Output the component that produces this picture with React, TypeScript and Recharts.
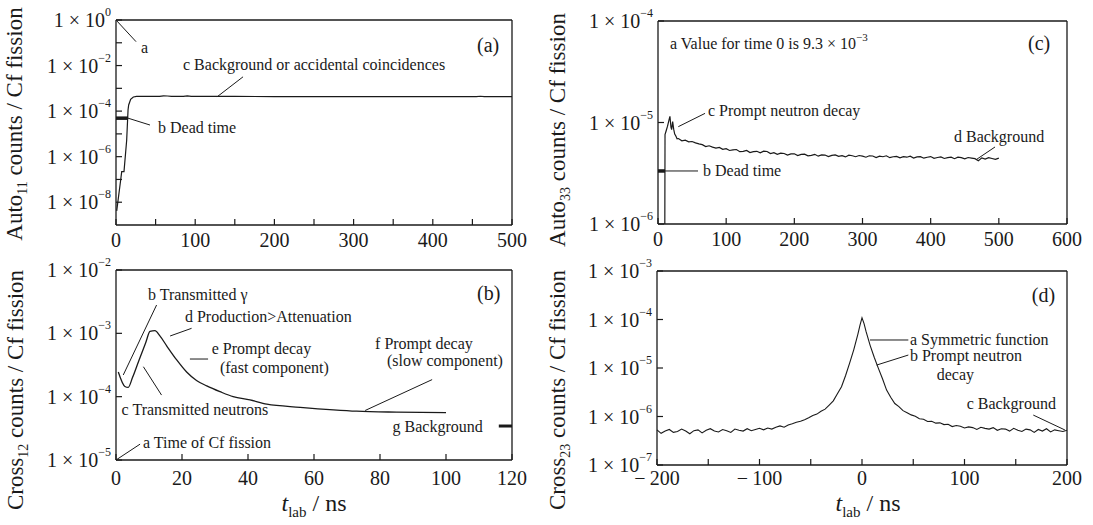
import React from "react";
import { LineChart, Line, XAxis, YAxis, ReferenceLine, ReferenceDot } from "recharts";

const FONT = "Liberation Serif";
const INK = "#1a1a1a";

type Pt = [number, number];

// ---------- (a) Auto11 ----------
const auto11: Pt[] = [
  [0.9, 4.2e-9], [5.9, 9.5e-8], [7.2, 2.2e-7], [10.1, 2.2e-7], [13.5, 5.4e-6],
  [15.2, 1.12e-4], [16, 1.86e-4], [18.5, 3.3e-4], [21.9, 4.17e-4], [26, 4.4e-4],
  [40, 4.4e-4], [55, 4.45e-4], [60, 4.7e-4], [65, 4.6e-4], [70, 4.4e-4],
  [85, 4.45e-4], [90, 4.7e-4], [95, 4.45e-4], [150, 4.4e-4], [200, 4.35e-4],
  [300, 4.35e-4], [400, 4.35e-4], [455, 4.35e-4], [460, 4.5e-4], [465, 4.3e-4], [500, 4.3e-4],
];
const auto11Dead: Pt[] = [[0, 4.9e-5], [15.2, 4.9e-5]];
const auto11XTicks = [0, 50, 100, 150, 200, 250, 300, 350, 400, 450, 500];
const auto11XLabels = [0, 100, 200, 300, 400, 500];
const auto11YTicks = [1e-8, 1e-7, 1e-6, 1e-5, 1e-4, 1e-3, 1e-2, 1e-1, 1];
const auto11YLabels = [0, -2, -4, -6, -8];

// ---------- (c) Auto33 ----------
const auto33: Pt[] = [
  [10, 1.0e-6], [10.3, 7.6e-6], [12, 8.3e-6], [14, 9.2e-6], [16, 1.05e-5], [17.5, 1.15e-5],
  [19, 9.0e-6], [20, 8.5e-6], [21.5, 1.02e-5], [23, 8.6e-6], [24.5, 7.7e-6], [26, 7.4e-6], [28, 6.9e-6],
  [30, 6.95e-6], [35, 6.6e-6], [40, 6.7e-6], [45, 6.45e-6], [50, 6.5e-6], [55, 6.3e-6], [60, 6.15e-6],
  [65, 6.05e-6], [70, 5.8e-6], [75, 5.9e-6], [80, 5.72e-6], [85, 5.6e-6], [90, 5.68e-6], [95, 5.45e-6],
  [100, 5.52e-6], [105, 5.3e-6], [110, 5.38e-6], [115, 5.42e-6], [120, 5.16e-6], [125, 5.2e-6],
  [130, 5.3e-6], [135, 5.05e-6], [140, 5.16e-6], [145, 5.2e-6], [150, 5.02e-6], [155, 5.22e-6],
  [160, 5.18e-6], [165, 4.95e-6], [170, 5.04e-6], [175, 4.85e-6], [180, 4.98e-6], [185, 4.95e-6],
  [190, 4.78e-6], [195, 4.9e-6], [200, 4.92e-6], [205, 4.72e-6], [210, 4.85e-6], [215, 4.88e-6],
  [220, 4.7e-6], [225, 4.74e-6], [230, 4.86e-6], [235, 4.66e-6], [240, 4.8e-6], [245, 4.78e-6],
  [250, 4.62e-6], [255, 4.75e-6], [260, 4.8e-6], [265, 4.64e-6], [270, 4.72e-6], [275, 4.58e-6],
  [280, 4.76e-6], [285, 4.7e-6], [290, 4.6e-6], [295, 4.73e-6], [300, 4.66e-6], [305, 4.55e-6],
  [310, 4.7e-6], [315, 4.68e-6], [320, 4.52e-6], [325, 4.66e-6], [330, 4.6e-6], [335, 4.7e-6],
  [340, 4.5e-6], [345, 4.6e-6], [350, 4.64e-6], [355, 4.48e-6], [360, 4.6e-6], [365, 4.55e-6],
  [370, 4.66e-6], [375, 4.47e-6], [380, 4.58e-6], [385, 4.6e-6], [390, 4.45e-6], [395, 4.55e-6],
  [400, 4.62e-6], [405, 4.44e-6], [410, 4.52e-6], [415, 4.58e-6], [420, 4.42e-6], [425, 4.5e-6],
  [430, 4.56e-6], [435, 4.4e-6], [440, 4.55e-6], [445, 4.5e-6], [450, 4.38e-6], [455, 4.52e-6],
  [460, 4.46e-6], [465, 4.4e-6], [470, 4.2e-6], [475, 4.48e-6], [480, 4.36e-6], [485, 4.5e-6],
  [490, 4.42e-6], [495, 4.34e-6], [500, 4.46e-6],
];
const auto33Dead: Pt[] = [[0, 3.33e-6], [10.3, 3.33e-6]];
const auto33XTicks = [0, 100, 200, 300, 400, 500, 600];
const auto33YTicks = [1e-6, 1e-5, 1e-4];
const auto33YLabels = [-4, -5, -6];

// ---------- (b) Cross12 ----------
const cross12: Pt[] = [
  [0.7, 2.45e-4], [2.7, 1.45e-4], [3.7, 1.4e-4], [5, 2.0e-4], [7, 3.8e-4], [9, 7.1e-4],
  [10.3, 1.07e-3], [11.8, 1.1e-3], [13.3, 9.1e-4], [15.4, 6.3e-4], [18.4, 3.8e-4], [21.4, 2.45e-4],
  [24.4, 1.8e-4], [27.5, 1.48e-4], [31.5, 1.2e-4], [35.5, 1.0e-4], [40.6, 8.9e-5], [45.7, 7.6e-5],
  [55.8, 6.8e-5], [65.9, 6.2e-5], [72.9, 5.9e-5], [85, 5.7e-5], [100, 5.6e-5],
];
const cross12Bg: Pt[] = [[116, 3.44e-5], [120, 3.44e-5]];
const cross12XTicks = [0, 20, 40, 60, 80, 100, 120];
const cross12YTicks = [1e-5, 1e-4, 1e-3, 1e-2];
const cross12YLabels = [-2, -3, -4, -5];

// ---------- (d) Cross23 ----------
const cross23: Pt[] = [
  [-200, 5.3e-7], [-196, 4.5e-7], [-192, 5.0e-7], [-188, 5.4e-7], [-184, 4.7e-7], [-180, 4.9e-7],
  [-176, 5.5e-7], [-172, 5.0e-7], [-168, 4.4e-7], [-164, 5.1e-7], [-160, 5.3e-7], [-156, 4.6e-7],
  [-152, 5.2e-7], [-148, 5.6e-7], [-144, 5.0e-7], [-140, 4.8e-7], [-136, 5.4e-7], [-132, 5.1e-7],
  [-128, 4.7e-7], [-124, 5.5e-7], [-120, 5.2e-7], [-116, 5.0e-7], [-112, 5.6e-7], [-108, 5.1e-7],
  [-104, 5.4e-7], [-100, 5.7e-7], [-96, 5.3e-7], [-92, 5.8e-7], [-88, 5.5e-7], [-84, 6.0e-7],
  [-80, 6.4e-7], [-76, 6.0e-7], [-72, 6.7e-7], [-68, 7.1e-7], [-64, 7.6e-7], [-60, 8.0e-7],
  [-56, 8.6e-7], [-52, 9.4e-7], [-48, 1.05e-6], [-44, 1.12e-6], [-40, 1.28e-6], [-36, 1.42e-6],
  [-32, 1.72e-6], [-28, 2.1e-6], [-24, 2.95e-6], [-20, 4.1e-6], [-16, 7.0e-6], [-12, 1.28e-5],
  [-8, 2.4e-5], [-4, 5.0e-5], [-2, 7.6e-5], [0, 1.08e-4], [2, 8.2e-5], [4, 5.6e-5], [8, 2.9e-5],
  [12, 1.65e-5], [16, 9.8e-6], [20, 6.0e-6], [24, 3.5e-6], [28, 2.5e-6], [32, 1.85e-6], [36, 1.6e-6],
  [40, 1.32e-6], [44, 1.2e-6], [48, 1.08e-6], [52, 1.01e-6], [56, 9.0e-7], [60, 8.8e-7], [64, 7.9e-7],
  [68, 8.0e-7], [72, 7.3e-7], [76, 7.4e-7], [80, 6.8e-7], [84, 6.9e-7], [88, 6.2e-7], [92, 6.5e-7],
  [96, 6.3e-7], [100, 5.8e-7], [104, 6.1e-7], [108, 5.9e-7], [112, 5.4e-7], [116, 6.0e-7], [120, 5.7e-7],
  [124, 5.5e-7], [128, 5.9e-7], [132, 5.2e-7], [136, 5.6e-7], [140, 5.5e-7], [144, 5.0e-7], [148, 5.7e-7],
  [152, 5.2e-7], [156, 4.9e-7], [160, 5.5e-7], [164, 5.3e-7], [168, 4.7e-7], [172, 5.4e-7], [176, 5.0e-7],
  [180, 5.6e-7], [184, 4.8e-7], [188, 5.3e-7], [192, 5.1e-7], [196, 4.9e-7], [200, 5.2e-7],
];
const cross23XTicks = [-200, -150, -100, -50, 0, 50, 100, 150, 200];
const cross23XLabels = [-200, -100, 0, 100, 200];
const cross23YTicks = [1e-7, 1e-6, 1e-5, 1e-4, 1e-3];
const cross23YLabels = [-3, -4, -5, -6, -7];

const rows = (pts: Pt[]) => pts.map(([t, v]) => ({ t, v }));
const sup = (e: number) => (e < 0 ? `−${-e}` : `${e}`);

function yTick(labelled: number[]) {
  return (p: any) => {
    const { x, y, payload } = p;
    const e = Math.round(Math.log10(payload.value));
    return (
      <g>
        <line x1={x} x2={x + 6} y1={y} y2={y} stroke={INK} strokeWidth={1.2} />
        {labelled.includes(e) && (
          <text x={x - 5} y={y} textAnchor="end" dominantBaseline="central" fontFamily={FONT} fontSize={20} fill={INK}>
            1 × 10<tspan dy={-8} fontSize={12}>{sup(e)}</tspan>
          </text>
        )}
      </g>
    );
  };
}

function xTick(labelled: number[] | null, gap = 22) {
  return (p: any) => {
    const { x, y, payload } = p;
    const v = payload.value as number;
    const show = labelled ? labelled.includes(v) : true;
    return (
      <g>
        <line x1={x} x2={x} y1={y} y2={y - 6} stroke={INK} strokeWidth={1.2} />
        {show && (
          <text x={x} y={y + gap} textAnchor="middle" fontFamily={FONT} fontSize={20} fill={INK}>
            {v < 0 ? `−\u2009${-v}` : v}
          </text>
        )}
      </g>
    );
  };
}

function note(key: string, x: number, y: number, text: React.ReactNode, size = 16) {
  return (
    <ReferenceDot
      key={key}
      x={x}
      y={y}
      r={0}
      ifOverflow="visible"
      shape={(p: any) => (
        <text x={p.cx} y={p.cy} dominantBaseline="central" fontFamily={FONT} fontSize={size} fill={INK}>
          {text}
        </text>
      )}
    />
  );
}

function leader(key: string, a: Pt, b: Pt) {
  return (
    <ReferenceLine
      key={key}
      segment={[{ x: a[0], y: a[1] }, { x: b[0], y: b[1] }]}
      stroke={INK}
      strokeWidth={1}
      ifOverflow="visible"
    />
  );
}

const axisLine = { stroke: INK, strokeWidth: 1.3 };

// top and right axes only close the box
function frame() {
  return [
    <XAxis key="ft" xAxisId="top" orientation="top" height={1} type="number" domain={[0, 1]} tick={false} tickLine={false} axisLine={axisLine} />,
    <YAxis key="fr" yAxisId="right" orientation="right" width={1} type="number" domain={[0, 1]} tick={false} tickLine={false} axisLine={axisLine} />,
  ];
}

function curve(key: string, pts: Pt[], width = 1.2, type: "linear" | "monotone" = "linear") {
  return (
    <Line
      key={key}
      data={rows(pts)}
      dataKey="v"
      type={type}
      stroke={INK}
      strokeWidth={width}
      dot={false}
      isAnimationActive={false}
    />
  );
}

const box = (left: number, top: number): React.CSSProperties => ({ position: "absolute", left, top });

export default function App() {
  return (
    <div style={{ position: "absolute", left: 0, top: 0, width: 1093, height: 525, background: "#fff", fontFamily: FONT }}>
      {/* (a) */}
      <div style={box(0, 0)}>
        <LineChart width={546} height={262} margin={{ top: 19, left: 115, right: 33, bottom: 36 }}>
          <XAxis dataKey="t" type="number" domain={[0, 500]} ticks={auto11XTicks} interval={0} tickSize={0} tickMargin={0}
            tickLine={false} axisLine={axisLine} height={1} tick={xTick(auto11XLabels)} />
          <YAxis type="number" scale="log" domain={[1e-9, 1]} allowDataOverflow ticks={auto11YTicks} interval={0}
            tickSize={0} tickMargin={0} tickLine={false} axisLine={axisLine} width={1} tick={yTick(auto11YLabels)} />
          {frame()}
          {curve("a1", auto11)}
          {curve("a2", auto11Dead, 3.5)}
          {leader("la", [0, 1], [25.3, 0.112])}
          {leader("lc", [127.5, 4.2e-4], [160.4, 3.2e-3])}
          {leader("lb", [15.2, 4.9e-5], [42.9, 2.45e-5])}
          {note("na", 31.6, 0.065, "a")}
          {note("nc", 84.6, 0.0106, "c  Background or accidental coincidences")}
          {note("nb", 53, 2.0e-5, "b  Dead time")}
          {note("nt", 455.8, 0.08, "(a)", 20)}
        </LineChart>
      </div>

      {/* (c) */}
      <div style={box(546, 0)}>
        <LineChart width={547} height={262} margin={{ top: 20, left: 111, right: 25, bottom: 37 }}>
          <XAxis dataKey="t" type="number" domain={[0, 600]} ticks={auto33XTicks} interval={0} tickSize={0} tickMargin={0}
            tickLine={false} axisLine={axisLine} height={1} tick={xTick(null)} />
          <YAxis type="number" scale="log" domain={[1e-6, 1e-4]} allowDataOverflow ticks={auto33YTicks} interval={0}
            tickSize={0} tickMargin={0} tickLine={false} axisLine={axisLine} width={1} tick={yTick(auto33YLabels)} />
          {frame()}
          {curve("c1", auto33)}
          {curve("c2", auto33Dead, 3.5)}
          {leader("lc", [29.8, 9.1e-6], [69, 1.23e-5])}
          {leader("lb", [10.3, 3.33e-6], [58.7, 3.33e-6])}
          {leader("ld", [468, 4.36e-6], [494.4, 5.74e-6])}
          {note("na", 17.6, 6.07e-5, <>a Value for time 0 is 9.3 × 10<tspan dy={-6} fontSize={11}>−3</tspan></>, 16)}
          {note("nt", 542.8, 6.07e-5, "(c)", 20)}
          {note("nc", 73.3, 1.3e-5, "c Prompt neutron decay")}
          {note("nb", 66, 3.33e-6, "b Dead time")}
          {note("nd", 434.2, 7.2e-6, "d Background")}
        </LineChart>
      </div>

      {/* (b) */}
      <div style={box(0, 240)}>
        <LineChart width={546} height={285} margin={{ top: 29, left: 115, right: 33, bottom: 64 }}>
          <XAxis dataKey="t" type="number" domain={[0, 120]} ticks={cross12XTicks} interval={0} tickSize={0} tickMargin={0}
            tickLine={false} axisLine={axisLine} height={1} tick={xTick(null, 25)} />
          <YAxis type="number" scale="log" domain={[1e-5, 1e-2]} allowDataOverflow ticks={cross12YTicks} interval={0}
            tickSize={0} tickMargin={0} tickLine={false} axisLine={axisLine} width={1} tick={yTick(cross12YLabels)} />
          {frame()}
          {curve("b1", cross12, 1.3, "monotone")}
          {curve("b2", cross12Bg, 3)}
          {leader("lb", [2.2, 2.2e-4], [12.3, 2.8e-3])}
          {leader("ld", [16.4, 9.08e-4], [22.9, 1.2e-3])}
          {leader("le", [22.4, 3.93e-4], [27.9, 3.93e-4])}
          {leader("lc", [8.3, 2.97e-4], [13.8, 1.06e-4])}
          {leader("la", [0, 1e-5], [7.3, 1.78e-5])}
          {leader("lf", [75.5, 6.05e-5], [95.8, 1.86e-4])}
          {note("nb", 9.7, 4.03e-3, "b Transmitted γ")}
          {note("nd", 20.9, 1.83e-3, "d Production>Attenuation")}
          {note("ne", 29, 5.66e-4, "e Prompt decay")}
          {note("ne2", 31.5, 2.84e-4, "(fast component)")}
          {note("nc", 1.7, 6.38e-5, "c Transmitted neutrons")}
          {note("na", 8.2, 1.87e-5, "a Time of Cf fission")}
          {note("nf", 78.5, 7.03e-4, "f  Prompt decay")}
          {note("nf2", 82.1, 3.66e-4, "(slow component)")}
          {note("ng", 83.8, 3.44e-5, "g Background")}
          {note("nt", 109.4, 4.34e-3, "(b)", 20)}
        </LineChart>
      </div>

      {/* (d) */}
      <div style={box(546, 240)}>
        <LineChart width={547} height={285} margin={{ top: 30, left: 110, right: 25, bottom: 59 }}>
          <XAxis dataKey="t" type="number" domain={[-200, 200]} ticks={cross23XTicks} interval={0} tickSize={0} tickMargin={0}
            tickLine={false} axisLine={axisLine} height={1} tick={xTick(cross23XLabels, 20)} />
          <YAxis type="number" scale="log" domain={[1e-7, 1e-3]} allowDataOverflow ticks={cross23YTicks} interval={0}
            tickSize={0} tickMargin={0} tickLine={false} axisLine={axisLine} width={1} tick={yTick(cross23YLabels)} />
          {frame()}
          {curve("d1", cross23, 1.1)}
          {leader("la", [7.8, 3.78e-5], [45.2, 3.78e-5])}
          {leader("lb", [14.3, 1.15e-5], [45.2, 1.85e-5])}
          {leader("lc", [167.1, 1.07e-6], [198, 5.27e-7])}
          {note("nt", 165.6, 3.2e-4, "(d)", 20)}
          {note("na", 46.8, 3.78e-5, "a Symmetric function")}
          {note("nb", 46.8, 1.77e-5, "b Prompt neutron")}
          {note("nb2", 72.9, 7.18e-6, "decay")}
          {note("nc", 102.1, 1.87e-6, "c Background")}
        </LineChart>
      </div>

      {/* axis titles */}
      <svg width={1093} height={525} style={{ position: "absolute", left: 0, top: 0, pointerEvents: "none" }}>
        <g fontFamily={FONT} fill={INK}>
          <text transform="translate(22,124) rotate(-90)" textAnchor="middle" fontSize={23}>
            Auto<tspan dy={5} fontSize={14}>11</tspan><tspan dy={-5}> counts / Cf fission</tspan>
          </text>
          <text transform="translate(565,130) rotate(-90)" textAnchor="middle" fontSize={23}>
            Auto<tspan dy={5} fontSize={14}>33</tspan><tspan dy={-5}> counts / Cf fission</tspan>
          </text>
          <text transform="translate(23,390) rotate(-90)" textAnchor="middle" fontSize={23}>
            Cross<tspan dy={5} fontSize={14}>12</tspan><tspan dy={-5}> counts / Cf fission</tspan>
          </text>
          <text transform="translate(565,390) rotate(-90)" textAnchor="middle" fontSize={23}>
            Cross<tspan dy={5} fontSize={14}>23</tspan><tspan dy={-5}> counts / Cf fission</tspan>
          </text>
          <text x={314} y={511} textAnchor="middle" fontSize={24}>
            <tspan fontStyle="italic">t</tspan><tspan dy={6} fontSize={15}>lab</tspan><tspan dy={-6}> / ns</tspan>
          </text>
          <text x={868} y={511} textAnchor="middle" fontSize={24}>
            <tspan fontStyle="italic">t</tspan><tspan dy={6} fontSize={15}>lab</tspan><tspan dy={-6}> / ns</tspan>
          </text>
        </g>
      </svg>
    </div>
  );
}
